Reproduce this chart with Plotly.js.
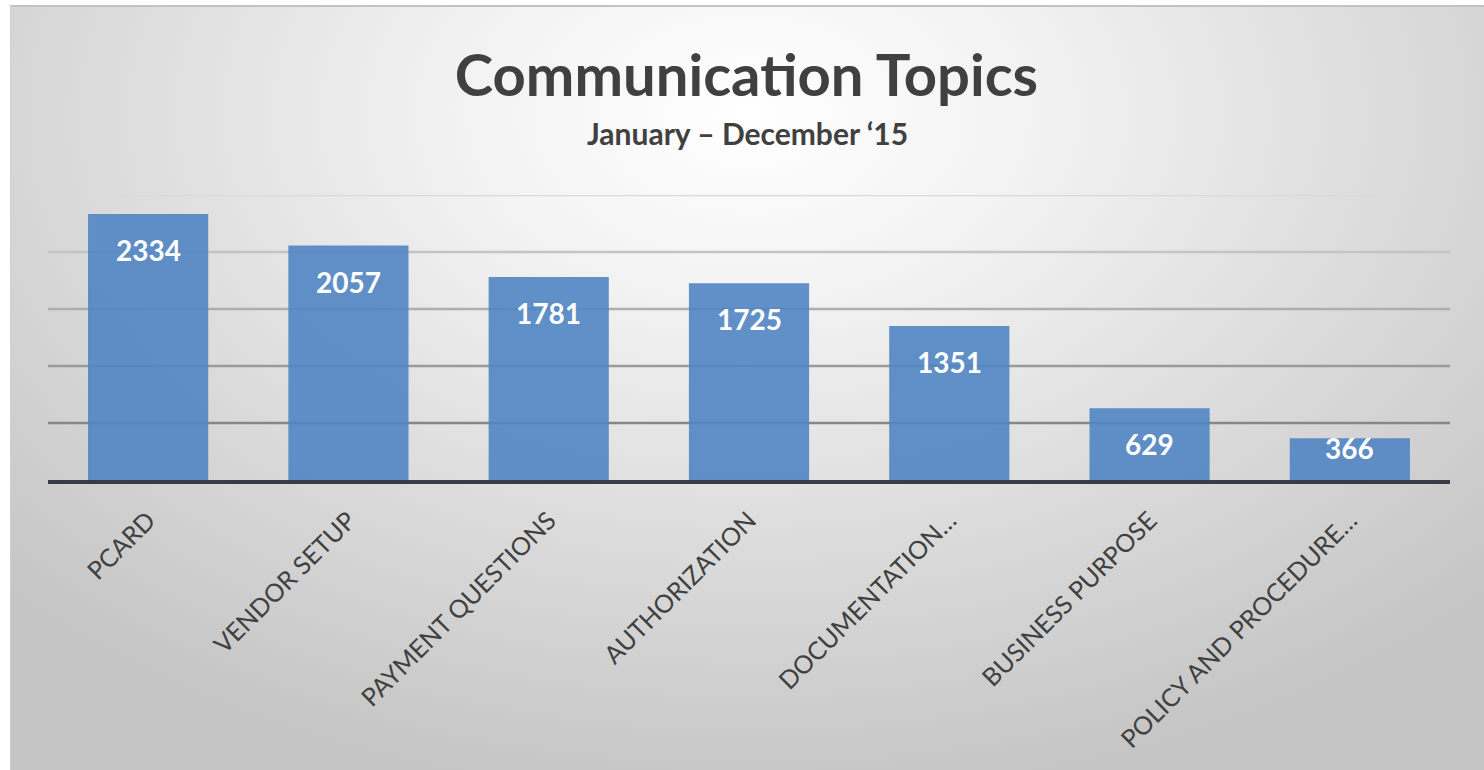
<!DOCTYPE html>
<html>
<head>
<meta charset="utf-8">
<script src="https://cdn.plot.ly/plotly-3.0.1.min.js"></script>
<style>
  html, body { margin: 0; padding: 0; background: #ffffff; }
  #frame {
    position: absolute; left: 10px; top: 5px; width: 1474px; height: 765px;
    background: radial-gradient(ellipse 70% 90% at 50% 14%, #ffffff 0%, #f2f2f2 28%, #dcdcdc 62%, #c5c5c5 100%);
    border-top: 2px solid #c2c2c2; border-left: 1px solid #d0d0d0;
    box-sizing: border-box;
  }
  #chart { position: absolute; left: 0; top: 0; width: 1484px; height: 770px; }
</style>
</head>
<body>
<div id="frame"></div>
<div id="chart"></div>
<script>
const categories = ["PCARD", "VENDOR SETUP", "PAYMENT QUESTIONS", "AUTHORIZATION", "DOCUMENTATION…", "BUSINESS PURPOSE", "POLICY AND PROCEDURE…"];
const counts = [2334, 2057, 1781, 1725, 1351, 629, 366];
const gridValues = [500, 1000, 1500, 2000, 2500];
const gridColors = ["#878787", "#9a9a9a", "#aeaeae", "#c4c4c4", "#dadada"];
const titleText = "Communication Topics";
const subtitleText = "January – December ‘15";

const plotHeightPx = 285;
const yMax = 2500;

const trace = {
  type: "bar",
  x: categories,
  y: counts,
  width: 0.6,
  marker: { color: "rgba(80,133,194,0.9)", line: { width: 0 } },
  hoverinfo: "skip"
};

const labels = counts.map((v, i) => {
  const barPx = v * plotHeightPx / yMax;
  return {
    x: categories[i], y: v, xref: "x", yref: "y",
    text: String(v), showarrow: false,
    yanchor: "middle", yshift: -Math.min(36, barPx - 32),
    font: { family: "Lato, 'Open Sans', sans-serif", size: 28, color: "#ffffff", weight: "bold" }
  };
});

labels.push({
  x: 0.499, y: 1 + (195 - 133) / plotHeightPx, xref: "paper", yref: "paper",
  text: "<b>" + subtitleText + "</b>", showarrow: false, yanchor: "middle", xanchor: "center",
  font: { family: "Lato, 'Open Sans', sans-serif", size: 30, color: "#404040" }
});

const shapes = gridValues.map((g, i) => ({
  type: "line", xref: "paper", yref: "y", x0: 0, x1: 1, y0: g, y1: g,
  line: { color: gridColors[i], width: 2.5 }, layer: "below"
}));

const layout = {
  width: 1484, height: 770,
  paper_bgcolor: "rgba(0,0,0,0)", plot_bgcolor: "rgba(0,0,0,0)",
  margin: { l: 48, r: 34, t: 195, b: 290 },
  title: {
    text: "<b>" + titleText + "</b>",
    x: 0.503, xanchor: "center", y: 1 - 76 / 770, yanchor: "middle", yref: "container",
    font: { family: "Lato, 'Open Sans', sans-serif", size: 58, color: "#404040" }
  },
  xaxis: {
    type: "category",
    tickangle: -45,
    tickfont: { family: "Lato, 'Open Sans', sans-serif", size: 25, color: "#404040" },
    showgrid: false, zeroline: false,
    showline: true, linecolor: "#383c44", linewidth: 4,
    ticks: "", ticklabelstandoff: 12,
    fixedrange: true
  },
  yaxis: {
    range: [0, yMax], showgrid: false, zeroline: false, showticklabels: false,
    showline: false, fixedrange: true
  },
  shapes: shapes,
  annotations: labels,
  showlegend: false,
  bargap: 0.4
};

Plotly.newPlot("chart", [trace], layout, { staticPlot: true, displayModeBar: false });
</script>
</body>
</html>
